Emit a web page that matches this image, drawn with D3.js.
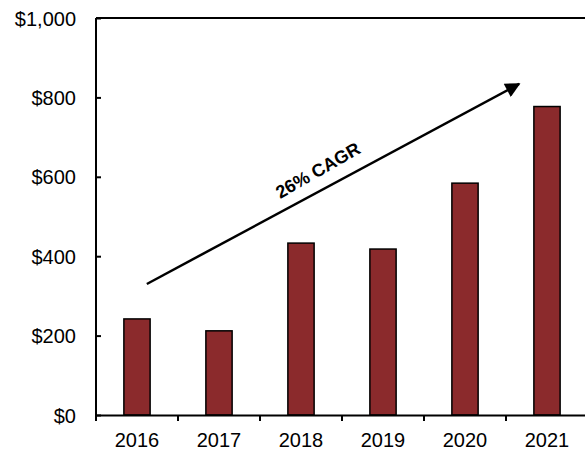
<!DOCTYPE html>
<html lang="en">
<head>
<meta charset="UTF-8">
<title>Revenue 2016-2021</title>
<style>
  body { margin: 0; background: #fff; }
  svg { display: block; font-family: Arial, "Liberation Sans", sans-serif; }
  .axis path, .axis line { stroke: #000; }
  .axis text { font-size: 20px; fill: #000; }
  .bar { fill: #8b2a2c; stroke: #000; stroke-width: 1.5px; }
</style>
</head>
<body>
<svg width="585" height="452"></svg>
<script src="https://cdnjs.cloudflare.com/ajax/libs/d3/7.8.5/d3.min.js"></script>
<script>
// data
var years = ["2016", "2017", "2018", "2019", "2020", "2021"];
var values = [242, 212, 433, 418, 584, 777];
var yTicks = [0, 200, 400, 600, 800, 1000];
// CAGR arrow: [category position (0 = first bar centre), value]
var arrowFrom = [0.12, 330];
var arrowTo = [4.66, 834];
var arrowLabel = "26% CAGR";

var svg = d3.select("svg"),
    margin = {top: 18, right: -3, bottom: 37, left: 96},
    width = +svg.attr("width") - margin.left - margin.right,
    height = +svg.attr("height") - margin.top - margin.bottom;

var x = d3.scaleBand().domain(years).range([0, width]).paddingInner(0).paddingOuter(0);
var y = d3.scaleLinear().domain([0, 1000]).range([height, 0]);
// numeric scale across categories for the annotation
var xi = d3.scaleLinear().domain([0, 1]).range([x.bandwidth() / 2, x.bandwidth() * 1.5]);

var g = svg.append("g")
    .attr("transform", "translate(" + margin.left + "," + margin.top + ")");

var barW = x.bandwidth() * 0.32;

g.selectAll(".bar")
    .data(values)
    .enter().append("rect")
    .attr("class", "bar")
    .attr("x", function (d, i) { return x(years[i]) + (x.bandwidth() - barW) / 2; })
    .attr("y", function (d) { return y(d); })
    .attr("width", barW)
    .attr("height", function (d) { return height - y(d); });

// top frame line
g.append("line")
    .attr("x1", 0).attr("x2", width)
    .attr("y1", 0).attr("y2", 0)
    .attr("stroke", "#000").attr("stroke-width", 2);

// y axis, ticks pointing inward
var yAxis = g.append("g")
    .attr("class", "axis")
    .call(d3.axisLeft(y).tickValues(yTicks).tickSize(-5).tickPadding(20)
        .tickFormat(function (d) { return "$" + d3.format(",")(d); }));
yAxis.select(".domain").attr("stroke-width", 2).attr("d", "M0," + height + "V0");
yAxis.selectAll(".tick line").attr("stroke-width", 2);
yAxis.selectAll(".tick text").attr("dy", "0.35em");

// x axis, ticks at category boundaries
var xAxis = g.append("g")
    .attr("class", "axis")
    .attr("transform", "translate(0," + height + ")")
    .call(d3.axisBottom(x).tickSize(0).tickPadding(18));
xAxis.select(".domain").attr("stroke-width", 2);

xAxis.selectAll(".sep")
    .data(d3.range(years.length + 1))
    .enter().append("line")
    .attr("class", "sep")
    .attr("x1", function (i) { return i * x.step(); })
    .attr("x2", function (i) { return i * x.step(); })
    .attr("y1", 0).attr("y2", 6)
    .attr("stroke", "#000").attr("stroke-width", 2);

// CAGR arrow
svg.append("defs").append("marker")
    .attr("id", "head")
    .attr("viewBox", "0 0 10 10")
    .attr("refX", 9).attr("refY", 5)
    .attr("markerWidth", 7).attr("markerHeight", 6)
    .attr("markerUnits", "strokeWidth")
    .attr("orient", "auto")
    .append("path").attr("d", "M0,0L10,5L0,10Z").attr("fill", "#000");

var ax1 = xi(arrowFrom[0]), ay1 = y(arrowFrom[1]),
    ax2 = xi(arrowTo[0]), ay2 = y(arrowTo[1]);

g.append("line")
    .attr("x1", ax1).attr("y1", ay1)
    .attr("x2", ax2).attr("y2", ay2)
    .attr("stroke", "#000").attr("stroke-width", 2.5)
    .attr("marker-end", "url(#head)");

var angle = Math.atan2(ay2 - ay1, ax2 - ax1) * 180 / Math.PI;
var mx = ax1 + (ax2 - ax1) * 0.485, my = ay1 + (ay2 - ay1) * 0.485;

g.append("text")
    .attr("transform", "translate(" + mx + "," + my + ") rotate(" + (angle - 1.5) + ") translate(0,-13)")
    .attr("text-anchor", "middle")
    .attr("font-size", "18px")
    .attr("font-weight", "bold")
    .text(arrowLabel);
</script>
</body>
</html>
